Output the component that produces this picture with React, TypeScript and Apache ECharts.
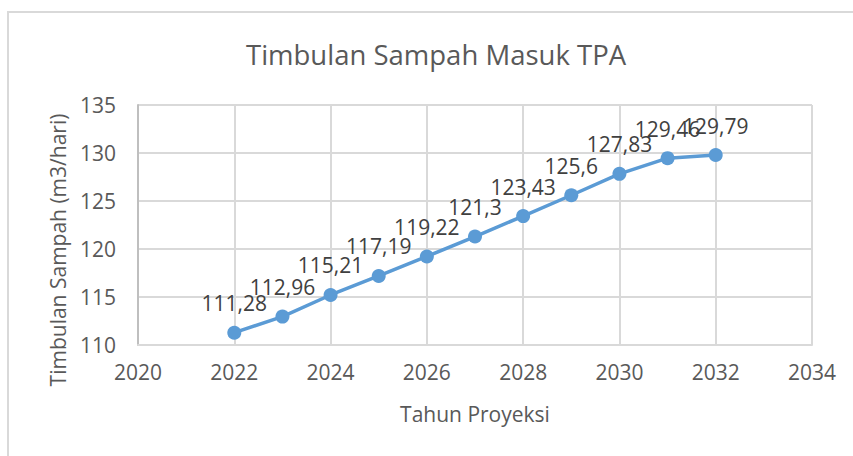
import React, { useEffect, useRef } from "react";
import * as echarts from "echarts";

const years = [2022, 2023, 2024, 2025, 2026, 2027, 2028, 2029, 2030, 2031, 2032];
const values = [111.28, 112.96, 115.21, 117.19, 119.22, 121.3, 123.43, 125.6, 127.83, 129.46, 129.79];
const title = "Timbulan Sampah Masuk TPA";
const xName = "Tahun Proyeksi";
const yName = "Timbulan Sampah (m3/hari)";

const FONT = "'Open Sans', sans-serif";
const TXT = "#595959";

export default function App() {
  const ref = useRef<HTMLDivElement>(null);
  useEffect(() => {
    if (!ref.current) return;
    const chart = echarts.init(ref.current, null, { renderer: "svg" });
    chart.setOption({
      animation: false,
      backgroundColor: "#ffffff",
      title: {
        text: title,
        left: 246,
        top: 40,
        padding: 0,
        textStyle: { fontFamily: FONT, fontSize: 27.5, fontWeight: "normal", color: TXT },
      },
      graphic: [
        {
          type: "rect",
          shape: { x: 8, y: 12, width: 900, height: 500 },
          style: { fill: "none", stroke: "#d9d9d9", lineWidth: 2 },
          silent: true,
        },
        {
          type: "text",
          x: 58,
          y: 250,
          rotation: Math.PI / 2,
          style: {
            text: yName,
            fontFamily: FONT,
            fontSize: 21,
            fill: TXT,
            align: "center",
            verticalAlign: "middle",
          },
          silent: true,
        },
      ],
      grid: { left: 138, right: 41, top: 105, bottom: 111 },
      xAxis: {
        type: "value",
        min: 2020,
        max: 2034,
        interval: 2,
        name: xName,
        nameLocation: "middle",
        nameGap: 58,
        nameTextStyle: { fontFamily: FONT, fontSize: 21, color: TXT },
        axisLine: { show: true, lineStyle: { color: "#d9d9d9", width: 2 } },
        axisTick: { show: false },
        axisLabel: { fontFamily: FONT, fontSize: 21, color: TXT, margin: 16, formatter: (v: number) => String(v) },
        splitLine: { show: true, lineStyle: { color: "#d9d9d9", width: 2 } },
      },
      yAxis: {
        type: "value",
        min: 110,
        max: 135,
        interval: 5,
        axisLine: { show: true, lineStyle: { color: "#bfbfbf", width: 2 } },
        axisTick: { show: false },
        axisLabel: { fontFamily: FONT, fontSize: 21, color: TXT, margin: 22 },
        splitLine: { show: true, lineStyle: { color: "#d9d9d9", width: 2 } },
      },
      series: [
        {
          type: "line",
          data: years.map((y, i) => [y, values[i]]),
          lineStyle: { color: "#5b9bd5", width: 3.5 },
          itemStyle: { color: "#5b9bd5" },
          symbol: "circle",
          symbolSize: 14,
          label: {
            show: true,
            position: "top",
            distance: 12,
            fontFamily: FONT,
            fontSize: 21,
            color: "#404040",
            formatter: (p: any) => String(p.value[1]).replace(".", ","),
          },
        },
      ],
    });
    return () => chart.dispose();
  }, []);
  return (
    <div
      ref={ref}
      style={{ position: "absolute", left: 0, top: 0, width: 853, height: 456 }}
    />
  );
}
